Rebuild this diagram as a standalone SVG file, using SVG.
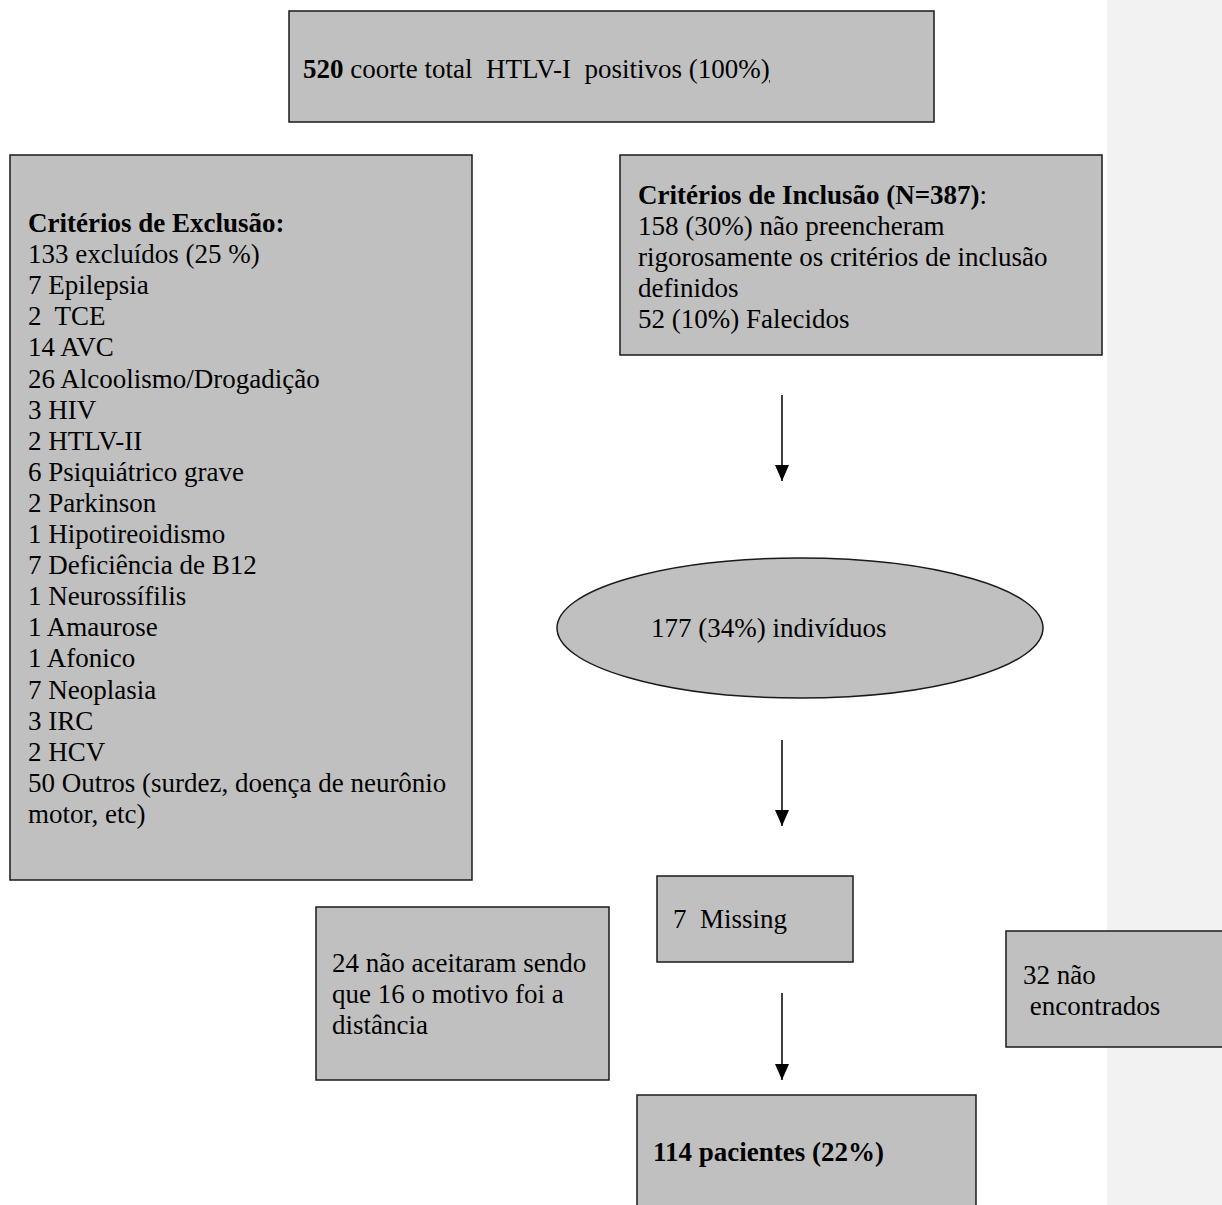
<svg xmlns="http://www.w3.org/2000/svg" width="1222" height="1205" viewBox="0 0 1222 1205">
<style>
.box{fill:#c0c0c0;stroke:#1a1a1a;stroke-width:1.5}
text{font-family:"Liberation Serif","Times New Roman",serif;font-size:27px;fill:#000;white-space:pre}
.b{font-weight:bold}
.ar{stroke:#000;stroke-width:1.5;fill:none}
</style>
<defs>
<marker id="ah" viewBox="0 0 16 14" refX="16" refY="7" markerWidth="16" markerHeight="14" markerUnits="userSpaceOnUse" orient="auto">
<path d="M0,0 L16,7 L0,14 Z" fill="#000"/>
</marker>
</defs>
<rect x="1107" y="0" width="115" height="1205" fill="#f2f2f2"/>
<g id="n-total">
<rect class="box" x="289" y="11" width="645" height="111"/>
<text x="303" y="78"><tspan class="b">520</tspan> coorte total  HTLV-I  positivos (100%<tspan text-decoration="underline">)</tspan></text>
</g>
<g id="n-exclusao">
<rect class="box" x="10" y="155" width="462" height="725"/>
<text x="28" y="232"><tspan class="b">Critérios de Exclusão:</tspan><tspan x="28" dy="31.1">133 excluídos (25 %)</tspan><tspan x="28" dy="31.1">7 Epilepsia</tspan><tspan x="28" dy="31.1">2  TCE</tspan><tspan x="28" dy="31.1">14 AVC</tspan><tspan x="28" dy="31.1">26 Alcoolismo/Drogadição</tspan><tspan x="28" dy="31.1">3 HIV</tspan><tspan x="28" dy="31.1">2 HTLV-II</tspan><tspan x="28" dy="31.1">6 Psiquiátrico grave</tspan><tspan x="28" dy="31.1">2 Parkinson</tspan><tspan x="28" dy="31.1">1 Hipotireoidismo</tspan><tspan x="28" dy="31.1">7 Deficiência de B12</tspan><tspan x="28" dy="31.1">1 Neurossífilis</tspan><tspan x="28" dy="31.1">1 Amaurose</tspan><tspan x="28" dy="31.1">1 Afonico</tspan><tspan x="28" dy="31.1">7 Neoplasia</tspan><tspan x="28" dy="31.1">3 IRC</tspan><tspan x="28" dy="31.1">2 HCV</tspan><tspan x="28" dy="31.1">50 Outros (surdez, doença de neurônio</tspan><tspan x="28" dy="31.1">motor, etc)</tspan></text>
</g>
<g id="n-inclusao">
<rect class="box" x="620" y="155" width="482" height="200"/>
<text x="638" y="204"><tspan class="b">Critérios de Inclusão (N=387)</tspan>:<tspan x="638" dy="31">158 (30%) não preencheram</tspan><tspan x="638" dy="31">rigorosamente os critérios de inclusão</tspan><tspan x="638" dy="31">definidos</tspan><tspan x="638" dy="31">52 (10%) Falecidos</tspan></text>
</g>
<g id="n-individuos">
<ellipse class="box" cx="800" cy="628" rx="243" ry="70"/>
<text x="651" y="637">177 (34%) indivíduos</text>
</g>
<g id="n-missing">
<rect class="box" x="657" y="876" width="196" height="86"/>
<text x="673" y="928">7  Missing</text>
</g>
<g id="n-naoaceitaram">
<rect class="box" x="316" y="907" width="293" height="173"/>
<text x="332" y="972">24 não aceitaram sendo<tspan x="332" dy="31">que 16 o motivo foi a</tspan><tspan x="332" dy="31">distância</tspan></text>
</g>
<g id="n-naoencontrados">
<rect class="box" x="1006" y="931" width="230" height="116"/>
<text x="1023" y="984">32 não<tspan x="1023" dy="31"> encontrados</tspan></text>
</g>
<g id="n-pacientes">
<rect class="box" x="637" y="1095" width="339" height="125"/>
<text x="653" y="1161" class="b">114 pacientes (22%)</text>
</g>
<g id="connectors">
<line class="ar" x1="782" y1="395" x2="782" y2="481" marker-end="url(#ah)"/>
<line class="ar" x1="782" y1="740" x2="782" y2="826" marker-end="url(#ah)"/>
<line class="ar" x1="782" y1="993" x2="782" y2="1080" marker-end="url(#ah)"/>
</g>
</svg>
